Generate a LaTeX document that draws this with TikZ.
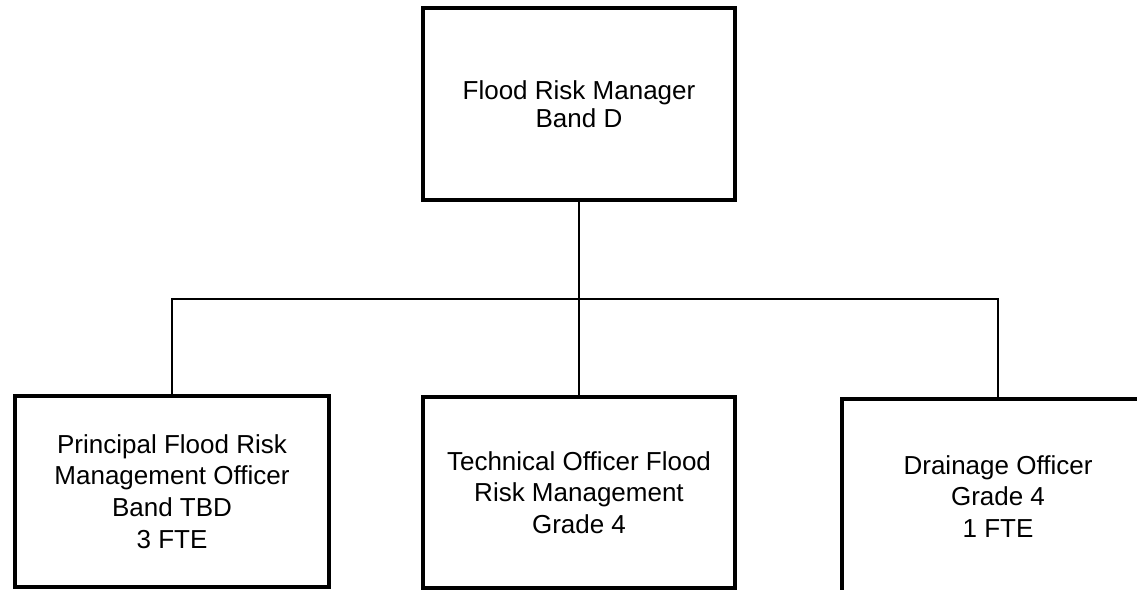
\documentclass[tikz,border=0pt]{standalone}
\usepackage{fontspec}
\setmainfont{Liberation Sans}
\begin{document}
\begin{tikzpicture}[x=1pt,y=-1pt,
  post/.style={draw,line width=3.5pt,align=center,inner sep=0pt,minimum width=312pt,minimum height=191pt,font={\fontsize{26}{31.7}\selectfont}},
  link/.style={line width=1.5pt}]
\useasboundingbox (0,0) rectangle (1137,589);
\clip (0,0) rectangle (1137,589);
\node[post,minimum height=192pt,font={\fontsize{26}{28.3}\selectfont}] (frm) at (579,104) {Flood Risk Manager\\Band D};

%team
\node[post,minimum width=314pt] (pfrm) at (172,491.5) {Principal Flood Risk\\Management Officer\\Band TBD\\3 FTE};
\node[post] (tech) at (579,492.5) {Technical Officer Flood\\Risk Management\\Grade 4};
\node[post,minimum height=195pt] (drain) at (998,496.5) {Drainage Officer\\Grade 4\\1 FTE};

\coordinate (bus) at (579,299);
\draw[link] (frm.south) to (bus);
\draw[link] (pfrm.north) |- (bus) -| (drain.north);
\draw[link] (bus) to (tech.north);
\end{tikzpicture}
\end{document}
